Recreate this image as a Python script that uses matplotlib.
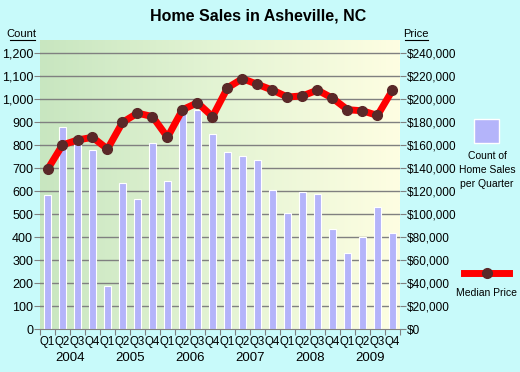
import numpy as np
import matplotlib.pyplot as plt
from matplotlib.colors import LinearSegmentedColormap

plt.rcParams['font.family'] = ['Liberation Sans', 'DejaVu Sans']

quarters = ["Q1", "Q2", "Q3", "Q4"] * 6
years = ["2004", "2005", "2006", "2007", "2008", "2009"]
counts = [582, 878, 820, 780, 190, 635, 566, 809, 643, 945, 952, 848,
          770, 752, 735, 607, 504, 596, 587, 435, 330, 403, 533, 417]
prices = [139000, 160300, 164600, 167000, 156800, 180000, 188000, 185000,
          167000, 191000, 197000, 185000, 210000, 218000, 213000, 208000,
          202000, 203000, 208000, 201000, 191000, 190000, 186000, 208000]

bg = "#c8fafa"
fig = plt.figure(figsize=(5.2, 3.72), dpi=100, facecolor=bg)
ax = fig.add_axes([40/520, 1-329.3/372, 360/520, 289.3/372])
ax.set_xlim(0, 24)
ax.set_ylim(0, 1258)

# gradient background
cmap = LinearSegmentedColormap.from_list("bg", ["#c8e6c0", "#e4f4d4", "#fefee2"])
grad = np.linspace(0, 1, 256).reshape(1, -1)
ax.imshow(grad, cmap=cmap, aspect="auto", extent=[0, 24, 0, 1258], zorder=0)

for v in range(100, 1300, 100):
    ax.axhline(v, color="#808080", lw=1, zorder=1)

x = np.arange(24) + 0.5
ax.bar(x, counts, width=0.45, color="#b4b4fa", edgecolor="white", lw=0.8, zorder=2)

ax2 = ax.twinx()
ax2.set_ylim(0, 1258 * 200)
ax2.plot(x, prices, color="#ff0000", lw=5, zorder=3, solid_capstyle="round")
ax2.plot(x, prices, "o", color="#5a2828", ms=7, zorder=4)

for a in (ax, ax2):
    for s in a.spines.values():
        s.set_visible(False)
ax.spines["bottom"].set_visible(True)
ax.spines["bottom"].set_color("#808080")

ax.set_yticks(range(0, 1300, 100))
ax.set_yticklabels([f"{v:,}" for v in range(0, 1300, 100)], fontsize=9)
ax2.set_yticks(range(0, 260000, 20000))
ax2.set_yticklabels([f"${v:,}" for v in range(0, 260000, 20000)], fontsize=8.5)
ax.tick_params(axis="y", length=4, color="#808080", pad=1)
ax2.tick_params(axis="y", length=4, color="#808080", pad=1)

ax.set_xticks(range(25))
ax.set_xticklabels([])
ax.tick_params(axis="x", length=4, color="#808080")
for i, q in enumerate(quarters):
    ax.text(x[i], -28, q, ha="center", va="top", fontsize=8.3)
for j, yr in enumerate(years):
    ax.text(j * 4 + 2, -100, yr, ha="center", va="top", fontsize=9.5)

fig.text(0.497, 0.958, "Home Sales in Asheville, NC", ha="center", va="center",
         fontsize=11.5, fontweight="bold")
fig.text(21/520, 1-34/372, "Count", ha="center", va="center", fontsize=8)
fig.add_artist(plt.Line2D([10/520, 35/520], [1-40/372, 1-40/372], color="black", lw=0.8))
fig.text(416/520, 1-34/372, "Price", ha="center", va="center", fontsize=8)
fig.add_artist(plt.Line2D([405/520, 428/520], [1-40/372, 1-40/372], color="black", lw=0.8))

# legend
fig.patches.append(plt.Rectangle((474/520, 1-143/372), 25/520, 24/372, transform=fig.transFigure,
                                 facecolor="#b4b4fa", edgecolor="white", lw=1))
fig.text(487/520, 1-170/372, "Count of\nHome Sales\nper Quarter", ha="center", va="center",
         fontsize=7.5, linespacing=1.45)
fig.add_artist(plt.Line2D([464/520, 509/520], [1-273/372, 1-273/372], color="#ff0000", lw=5))
fig.add_artist(plt.Line2D([487/520], [1-273/372], marker="o", color="#5a2828", ms=7))
fig.text(487/520, 1-293/372, "Median Price", ha="center", va="center", fontsize=7.5)

fig.savefig("out.png", dpi=100, facecolor=bg)
